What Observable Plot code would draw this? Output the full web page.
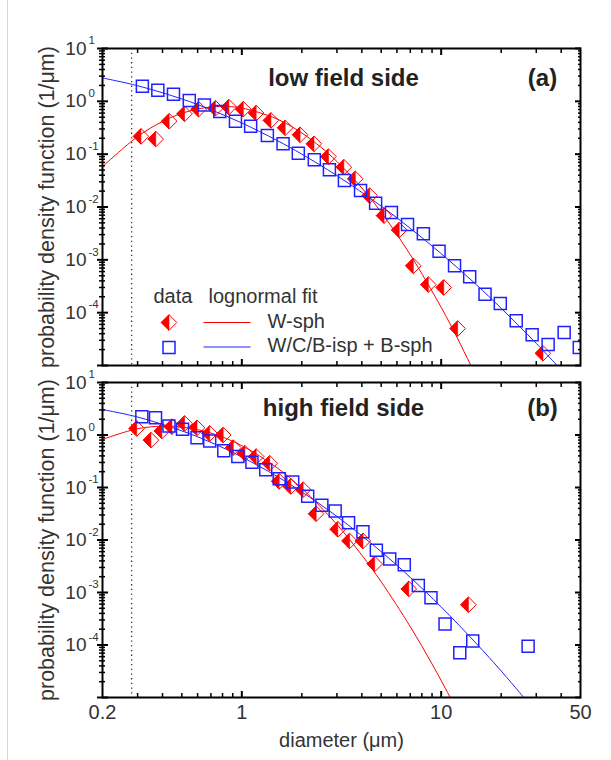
<!DOCTYPE html>
<html><head><meta charset="utf-8">
<script src="https://cdn.jsdelivr.net/npm/d3@7"></script>
<script src="https://cdn.jsdelivr.net/npm/@observablehq/plot@0.6"></script>
<style>
body{margin:0;background:#fff;}
#wrap{position:relative;width:611px;height:760px;overflow:hidden;background:#fff;}
#wrap .edge{position:absolute;left:7px;top:0;width:1px;height:760px;background:#d4d4d4;}
.panel{position:absolute;left:0;}
.panel svg{display:block;}
</style></head><body>
<div id="wrap"><div class="edge"></div><div id="p1" class="panel" style="top:0px"></div><div id="p2" class="panel" style="top:372px"></div></div>
<script>
// ---------- data ----------
const cutoffDiameter = [0.28];

// (a) low field side
const lowWsphDiam = [0.312,0.370,0.432,0.516,0.607,0.737,0.861,1.017,1.18,1.40,1.65,1.96,2.30,2.72,3.25,3.71,4.38,5.17,6.16,7.25,8.62,10.3,12.1,32.4];
const lowWsphPdf  = [0.217,0.193,0.42,0.58,0.71,0.74,0.78,0.71,0.60,0.436,0.316,0.233,0.157,0.090,0.0567,0.0341,0.0164,0.00687,0.00367,7.7e-4,3.4e-4,3.0e-4,5.0e-5,1.7e-5];
const lowBDiam = [0.317,0.379,0.454,0.545,0.649,0.775,0.929,1.107,1.343,1.61,1.92,2.31,2.75,3.27,3.94,4.69,5.63,6.78,8.14,9.76,11.67,13.9,16.6,19.8,23.8,28.6,34.4,41.4,49.3];
const lowBPdf  = [1.93,1.62,1.36,1.04,0.85,0.64,0.42,0.336,0.226,0.157,0.104,0.078,0.0506,0.0317,0.0205,0.0118,0.0079,0.00464,0.0031,0.00145,7.7e-4,4.8e-4,2.24e-4,1.49e-4,7.0e-5,3.8e-5,2.5e-5,4.2e-5,2.2e-5];
const lowWsphFitDiam = [0.2,0.3,0.4,0.5,0.6,0.7,0.85,1,1.5,2,2.5,3,4,5,7,10,12,14,15];
const lowWsphFitPdf  = [0.058,0.215,0.416,0.593,0.716,0.782,0.796,0.747,0.465,0.252,0.134,0.0726,0.0229,0.00798,0.00125,1.26e-4,3.42e-5,1.05e-5,6.1e-6];
const lowBFitDiam = [0.2,0.3,0.5,0.7,1,1.5,2,3,5,7,10,15,20,30,40];
const lowBFitPdf  = [2.77,1.975,1.11,0.693,0.389,0.1825,0.100,0.0392,0.0104,0.00395,0.00131,3.39e-4,1.21e-4,2.62e-5,8.3e-6];

// (b) high field side
const highWsphDiam = [0.297,0.35,0.397,0.446,0.516,0.596,0.690,0.806,0.906,1.036,1.18,1.38,1.54,1.76,2.03,2.36,3.03,3.47,4.05,4.64,6.88,13.7];
const highWsphPdf  = [1.33,0.80,1.19,1.44,1.66,1.37,1.07,1.0,0.575,0.449,0.389,0.29,0.131,0.105,0.091,0.0316,0.016,0.0096,0.0096,0.0035,0.00117,5.85e-4];
const highBDiam = [0.315,0.369,0.431,0.504,0.596,0.690,0.812,0.955,1.124,1.318,1.54,1.80,2.14,2.52,2.94,3.43,4.05,4.73,5.52,6.53,7.68,8.89,10.46,12.4,14.4,27.3];
const highBPdf  = [2.22,2.12,1.48,1.28,0.89,0.77,0.50,0.389,0.303,0.218,0.147,0.127,0.068,0.046,0.0355,0.0213,0.0144,0.0064,0.00434,0.00338,0.00136,7.9e-4,2.5e-4,7.1e-5,1.19e-4,9.5e-5];
const highWsphFitDiam = [0.2,0.3,0.4,0.5,0.7,1,1.5,2,3,4,5,7,9,11,12];
const highWsphFitPdf  = [0.826,1.317,1.473,1.418,1.089,0.627,0.238,0.0962,0.0197,0.00514,0.0016,2.23e-4,4.35e-5,1.07e-5,5.7e-6];
const highBFitDiam = [0.2,0.3,0.5,0.7,1,1.5,2,3,5,7,10,15,20,27];
const highBFitPdf  = [3.05,2.20,1.20,0.723,0.382,0.163,0.0824,0.0281,0.00601,0.00194,5.31e-4,1.07e-4,3.2e-5,8.4e-6];

// axes
const xDomain = [0.2, 50];
const yDomain = [1e-5, 10];
const xTickValues = [0.2, 1, 10, 50];
const xTickLabels = ["0.2", "1", "10", "50"];
const xMajorTicks = [1, 10];
const xMinorTicks = [0.3,0.4,0.5,0.6,0.7,0.8,0.9,2,3,4,5,6,7,8,9,20,30,40];
const yTickValues = [10, 1, 0.1, 0.01, 0.001, 0.0001];
const yTickExponents = ["1", "0", "-1", "-2", "-3", "-4"];
const yMajorTicks = [1e-5, 1e-4, 1e-3, 1e-2, 1e-1, 1, 10];
const yMinorTicks = d3.range(-5, 1).flatMap(e => d3.range(2, 10).map(m => +(m * Math.pow(10, e)).toPrecision(3)));

const legendHeader = ["data", "lognormal fit"];
const seriesNames = ["W-sph", "W/C/B-isp + B-sph"];
const yTitle = "probability density function (1/\u03bcm)";
const xTitle = "diameter (\u03bcm)";

// ---------- drawing ----------
const zip = (d, f) => d.map((x, i) => ({d: x, f: f[i]}));
const font = "'Liberation Sans', Arial, Helvetica, sans-serif";
const ink = "#333333";
const red = "#ff0000", blue = "#2020ff";
const rad = s => Math.sqrt(s / Math.PI);
const diamondOutline = {draw(c, s){const r = rad(s); c.moveTo(0,-r); c.lineTo(r,0); c.lineTo(0,r); c.lineTo(-r,0); c.closePath();}};
const diamondLeft = {draw(c, s){const r = rad(s); c.moveTo(0,-r); c.lineTo(-r,0); c.lineTo(0,r); c.closePath();}};
const squareSym = {draw(c, s){const r = rad(s); c.moveTo(-r,-r); c.lineTo(r,-r); c.lineTo(r,r); c.lineTo(-r,r); c.closePath();}};
const hline = {draw(c, s){const r = rad(s); c.moveTo(-r,0); c.lineTo(r,0);}};

const DR = 7.8, SR = 6;

function tickMarks() {
  const k = {fill: "none", stroke: "#000"};
  return [
    Plot.axisY({anchor: "left", ticks: yMajorTicks, tickSize: 5, strokeWidth: 2, ...k}),
    Plot.axisY({anchor: "left", ticks: yMajorTicks, tickSize: -6, strokeWidth: 2, ...k}),
    Plot.axisY({anchor: "left", ticks: yMinorTicks, tickSize: 3, strokeWidth: 1.5, ...k}),
    Plot.axisY({anchor: "left", ticks: yMinorTicks, tickSize: -3, strokeWidth: 1.5, ...k}),
    Plot.axisY({anchor: "right", ticks: yMajorTicks, tickSize: -6, strokeWidth: 2, ...k}),
    Plot.axisY({anchor: "right", ticks: yMinorTicks, tickSize: -3, strokeWidth: 1.5, ...k}),
    Plot.axisX({anchor: "bottom", ticks: xMajorTicks, tickSize: -6, strokeWidth: 2, ...k}),
    Plot.axisX({anchor: "bottom", ticks: xMinorTicks, tickSize: -4, strokeWidth: 1.5, ...k}),
    Plot.axisX({anchor: "top", ticks: xMajorTicks, tickSize: -6, strokeWidth: 2, ...k}),
    Plot.axisX({anchor: "top", ticks: xMinorTicks, tickSize: -4, strokeWidth: 1.5, ...k})
  ];
}

function panel(o) {
  const yTicks = yTickValues.map((v, i) => ({v, e: yTickExponents[i]}));
  const marks = [
    Plot.ruleX(cutoffDiameter, {stroke: "#333", strokeWidth: 1.3, strokeDasharray: "1.3,3.4"}),
    Plot.line(zip(o.wFitD, o.wFitF), {x: "d", y: "f", stroke: red, strokeWidth: 1, curve: "catmull-rom", clip: true}),
    Plot.line(zip(o.bFitD, o.bFitF), {x: "d", y: "f", stroke: blue, strokeWidth: 1, curve: "catmull-rom", clip: true}),
    Plot.dot(zip(o.wD, o.wF), {x: "d", y: "f", symbol: diamondOutline, r: DR, fill: "none", stroke: red, strokeWidth: 1, clip: true}),
    Plot.dot(zip(o.wD, o.wF), {x: "d", y: "f", symbol: diamondLeft, r: DR, fill: red, stroke: red, strokeWidth: 0.6, clip: true}),
    Plot.dot(zip(o.bD, o.bF), {x: "d", y: "f", symbol: squareSym, r: SR, fill: "none", stroke: blue, strokeWidth: 1.5, clip: true}),
    Plot.frame({stroke: "#000", strokeWidth: 2}),
    ...tickMarks(),
    Plot.text(yTicks, {y: "v", text: () => "10", frameAnchor: "left", textAnchor: "end", dx: -16, fontSize: 19, fill: ink}),
    Plot.text(yTicks, {y: "v", text: "e", frameAnchor: "left", textAnchor: "start", dx: -14, dy: -8, fontSize: 11.5, fill: ink}),
    Plot.text([yTitle], {text: d => d, frameAnchor: "left", textAnchor: "middle", rotate: -90, dx: -55, fontSize: 21.5, fill: ink}),
    Plot.text([o.title], {text: d => d, frameAnchor: "top", textAnchor: "middle", dx: 2, dy: o.titleDy, lineAnchor: "bottom", fontSize: 24, fontWeight: "bold", fill: "#222"}),
    Plot.text([o.tag], {text: d => d, frameAnchor: "top-right", textAnchor: "middle", dx: -38, dy: o.titleDy, lineAnchor: "bottom", fontSize: 24, fontWeight: "bold", fill: "#222"})
  ];
  if (o.legend) {
    const t = {frameAnchor: "top-left", textAnchor: "start", lineAnchor: "bottom", fontSize: 20, fill: ink, text: d => d};
    marks.push(
      Plot.text([legendHeader[0]], {...t, dx: 51, dy: 254}),
      Plot.text([legendHeader[1]], {...t, dx: 106, dy: 254}),
      Plot.dot([0], {frameAnchor: "top-left", dx: 66.5, dy: 274, symbol: diamondOutline, r: DR, fill: "none", stroke: red, strokeWidth: 1}),
      Plot.dot([0], {frameAnchor: "top-left", dx: 66.5, dy: 274, symbol: diamondLeft, r: DR, fill: red, stroke: red, strokeWidth: 0.6}),
      Plot.dot([0], {frameAnchor: "top-left", dx: 124.5, dy: 274, symbol: hline, r: 23.5, fill: "none", stroke: red, strokeWidth: 1}),
      Plot.text([seriesNames[0]], {...t, dx: 165, dy: 279}),
      Plot.dot([0], {frameAnchor: "top-left", dx: 66.5, dy: 299, symbol: squareSym, r: SR, fill: "none", stroke: blue, strokeWidth: 1.5}),
      Plot.dot([0], {frameAnchor: "top-left", dx: 124.5, dy: 298.5, symbol: hline, r: 23.5, fill: "none", stroke: blue, strokeWidth: 1}),
      Plot.text([seriesNames[1]], {...t, dx: 165, dy: 303})
    );
  }
  if (o.xLabels) {
    const xt = xTickValues.map((v, i) => ({v, l: xTickLabels[i]}));
    marks.push(
      Plot.text(xt, {x: "v", text: "l", frameAnchor: "bottom", textAnchor: "middle", dy: 21, fontSize: 20, fill: ink}),
      Plot.text([xTitle], {text: d => d, frameAnchor: "bottom", textAnchor: "middle", dy: 49, fontSize: 20, fill: ink})
    );
  }
  return Plot.plot({
    width: 611, height: o.height,
    marginLeft: 102, marginRight: 31, marginTop: o.mt, marginBottom: o.mb,
    x: {type: "log", domain: xDomain, axis: null},
    y: {type: "log", domain: yDomain, axis: null},
    style: {fontFamily: font, background: "transparent", color: "#000", overflow: "visible"},
    marks
  });
}

document.getElementById("p1").append(panel({
  wD: lowWsphDiam, wF: lowWsphPdf, bD: lowBDiam, bF: lowBPdf,
  wFitD: lowWsphFitDiam, wFitF: lowWsphFitPdf, bFitD: lowBFitDiam, bFitF: lowBFitPdf,
  title: "low field side", tag: "(a)", titleDy: 37, legend: true, xLabels: false,
  height: 372, mt: 48, mb: 7
}));
document.getElementById("p2").append(panel({
  wD: highWsphDiam, wF: highWsphPdf, bD: highBDiam, bF: highBPdf,
  wFitD: highWsphFitDiam, wFitF: highWsphFitPdf, bFitD: highBFitDiam, bFitF: highBFitPdf,
  title: "high field side", tag: "(b)", titleDy: 33, legend: false, xLabels: true,
  height: 388, mt: 10, mb: 63
}));
</script>
</body></html>
